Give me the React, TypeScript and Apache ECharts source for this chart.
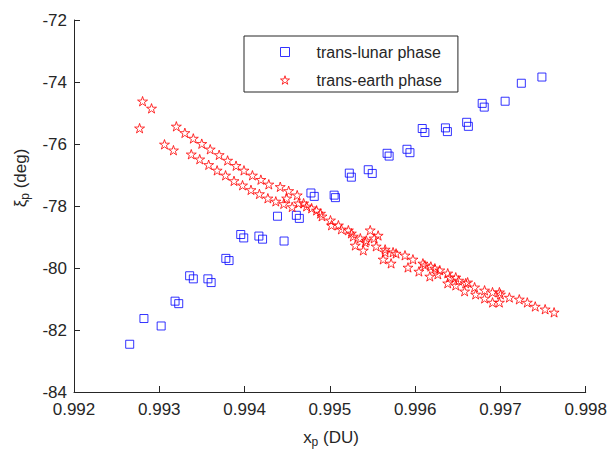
import React, { useEffect, useRef } from "react";
import * as echarts from "echarts";

// ---- data ----
const lunarX = [0.992653, 0.99282, 0.993022, 0.993185, 0.993228, 0.993356, 0.993399, 0.99357, 0.993608, 0.99378, 0.993818, 0.993955, 0.99399, 0.994168, 0.994211, 0.994386, 0.994463, 0.994607, 0.994642, 0.994778, 0.994817, 0.99505, 0.995065, 0.995228, 0.995252, 0.99545, 0.995497, 0.995671, 0.995695, 0.995904, 0.995939, 0.996083, 0.996114, 0.996355, 0.996378, 0.996604, 0.996624, 0.996786, 0.99681, 0.997055, 0.997245, 0.997486];
const lunarY = [-82.46, -81.63, -81.87, -81.07, -81.15, -80.25, -80.35, -80.35, -80.47, -79.69, -79.76, -78.92, -79.03, -78.97, -79.07, -78.33, -79.13, -78.3, -78.4, -77.58, -77.69, -77.65, -77.73, -76.94, -77.07, -76.83, -76.95, -76.3, -76.39, -76.17, -76.28, -75.5, -75.63, -75.48, -75.6, -75.3, -75.43, -74.69, -74.81, -74.62, -74.04, -73.84];

const earthX = [
  0.992804, 0.992909, 0.992769, 0.993061, 0.993166,
  0.9932, 0.9933, 0.993399, 0.993498, 0.993597, 0.993702, 0.993801, 0.9939, 0.993993, 0.994092, 0.994191, 0.994284, 0.994418, 0.994517, 0.994617,
  0.993375, 0.993474, 0.993579, 0.993678, 0.993777, 0.993876, 0.993976, 0.994075, 0.994174, 0.994273, 0.994366, 0.994459, 0.994558,
  0.994494, 0.994634, 0.994727,
  0.994692, 0.994786, 0.994844, 0.99489, 0.994908, 0.995007, 0.995019, 0.9951, 0.995135, 0.995217, 0.995252, 0.995275, 0.995357, 0.995427,
  0.995473, 0.995566, 0.99552, 0.995298, 0.995392, 0.995415, 0.995543, 0.995648, 0.995648, 0.995741, 0.995625, 0.995718,
  0.995776, 0.995881, 0.995974, 0.995916, 0.996044, 0.996091, 0.996114, 0.996184, 0.996231, 0.996172, 0.996266, 0.996289,
  0.996382, 0.996382, 0.996406, 0.996476, 0.996476, 0.99651, 0.996592, 0.99658, 0.996615, 0.996697, 0.996709, 0.996814, 0.996814,
  0.996907, 0.996907, 0.996988, 0.997, 0.996988, 0.997105, 0.997221, 0.997315, 0.997408, 0.997524, 0.997629,
];
const earthY = [
  -74.62, -74.85, -75.49, -76.01, -76.2,
  -75.43, -75.64, -75.82, -75.99, -76.17, -76.35, -76.53, -76.7, -76.85, -77.01, -77.15, -77.3, -77.38, -77.51, -77.65,
  -76.33, -76.49, -76.67, -76.85, -77.01, -77.19, -77.33, -77.48, -77.61, -77.75, -77.85, -77.93, -78.03,
  -77.75, -77.91, -78.01,
  -77.91, -78.07, -78.14, -78.24, -78.33, -78.46, -78.62, -78.62, -78.75, -78.78, -78.88, -78.98, -79.04, -79.11,
  -78.78, -78.95, -79.04, -79.27, -79.43, -79.17, -79.3, -79.4, -79.49, -79.49, -79.72, -79.85,
  -79.53, -79.59, -79.72, -79.98, -80.11, -79.85, -79.91, -79.95, -80.01, -80.27, -80.2, -80.07,
  -80.17, -80.49, -80.3, -80.3, -80.56, -80.4, -80.49, -80.75, -80.46, -80.62, -80.85, -80.72, -80.98,
  -80.78, -81.11, -80.78, -80.85, -81.11, -80.95, -81.01, -81.11, -81.24, -81.33, -81.43,
];

const seriesNames = ["trans-lunar phase", "trans-earth phase"];
const xMin = 0.992;
const xMax = 0.998;
const xStep = 0.001;
const yMin = -84;
const yMax = -72;
const yStep = 2;

const FONT = "'Liberation Sans', Arial, Helvetica, sans-serif";
const TEXT = "#262626";
const SQUARE = "path://M0,0L1,0L1,1L0,1Z";
const STAR =
  "path://M0,-1L0.2245,-0.309L0.9511,-0.309L0.3633,0.118L0.5878,0.809L0,0.382L-0.5878,0.809L-0.3633,0.118L-0.9511,-0.309L-0.2245,-0.309Z";

export default function App() {
  const ref = useRef<HTMLDivElement>(null);
  useEffect(() => {
    if (!ref.current) return;
    const chart = echarts.init(ref.current, undefined, { renderer: "svg" });
    const lunar = lunarX.map((x, i) => [x, lunarY[i]]);
    const earth = earthX.map((x, i) => [x, earthY[i]]);
    chart.setOption({
      animation: false,
      backgroundColor: "#ffffff",
      grid: { left: 74, right: 21, top: 20, bottom: 64, containLabel: false },
      xAxis: {
        type: "value",
        min: xMin,
        max: xMax,
        interval: xStep,
        axisLine: { show: true, lineStyle: { color: TEXT, width: 1 } },
        axisTick: { show: true, inside: true, length: 6, lineStyle: { color: TEXT } },
        splitLine: { show: false },
        axisLabel: {
          margin: 9,
          fontSize: 17,
          fontFamily: FONT,
          color: TEXT,
          formatter: (v: number) => v.toFixed(3),
        },
      },
      yAxis: {
        type: "value",
        min: yMin,
        max: yMax,
        interval: yStep,
        axisLine: { show: true, lineStyle: { color: TEXT, width: 1 } },
        axisTick: { show: true, inside: true, length: 6, lineStyle: { color: TEXT } },
        splitLine: { show: false },
        axisLabel: {
          margin: 7,
          fontSize: 17,
          fontFamily: FONT,
          color: TEXT,
          formatter: (v: number) => String(Math.round(v)),
        },
      },
      legend: {
        orient: "vertical",
        left: 244,
        top: 36,
        borderColor: TEXT,
        borderWidth: 1,
        padding: [7, 16, 3, 36],
        itemWidth: 9,
        itemHeight: 9,
        itemGap: 10,
        selectedMode: false,
        symbolKeepAspect: true,
        textStyle: {
          fontSize: 16,
          fontFamily: FONT,
          color: TEXT,
          lineHeight: 18,
          padding: [0, 0, 0, 22],
        },
        data: [
          {
            name: seriesNames[0],
            icon: SQUARE,
            itemStyle: { color: "transparent", borderColor: "#0000ff", borderWidth: 1 },
          },
          {
            name: seriesNames[1],
            icon: STAR,
            itemStyle: { color: "transparent", borderColor: "#ff0000", borderWidth: 1 },
          },
        ],
      },
      series: [
        {
          name: seriesNames[0],
          type: "scatter",
          data: lunar,
          symbol: SQUARE,
          symbolSize: 8,
          symbolKeepAspect: true,
          itemStyle: { color: "transparent", borderColor: "#0000ff", borderWidth: 1 },
          emphasis: { disabled: true },
        },
        {
          name: seriesNames[1],
          type: "scatter",
          data: earth,
          symbol: STAR,
          symbolSize: 10,
          symbolKeepAspect: true,
          itemStyle: { color: "transparent", borderColor: "#ff0000", borderWidth: 1 },
          emphasis: { disabled: true },
        },
      ],
      graphic: [
        {
          type: "text",
          x: 331,
          y: 437,
          style: {
            text: "{a|x}{b|p}{a| (DU)}",
            align: "center",
            verticalAlign: "middle",
            fill: TEXT,
            rich: {
              a: { fontSize: 17, fontFamily: FONT, fill: TEXT, lineHeight: 20 },
              b: { fontSize: 12, fontFamily: FONT, fill: TEXT, padding: [10, 0, 0, 0] },
            },
          },
        },
        {
          type: "text",
          x: 20,
          y: 178,
          rotation: Math.PI / 2,
          style: {
            text: "{a|ξ}{b|p}{a| (deg)}",
            align: "center",
            verticalAlign: "middle",
            fill: TEXT,
            rich: {
              a: { fontSize: 17, fontFamily: FONT, fill: TEXT, lineHeight: 20 },
              b: { fontSize: 12, fontFamily: FONT, fill: TEXT, padding: [10, 0, 0, 0] },
            },
          },
        },
      ],
    });
    return () => chart.dispose();
  }, []);
  return (
    <div
      ref={ref}
      style={{ position: "fixed", left: 0, top: 0, width: 610, height: 456, background: "#fff" }}
    />
  );
}
